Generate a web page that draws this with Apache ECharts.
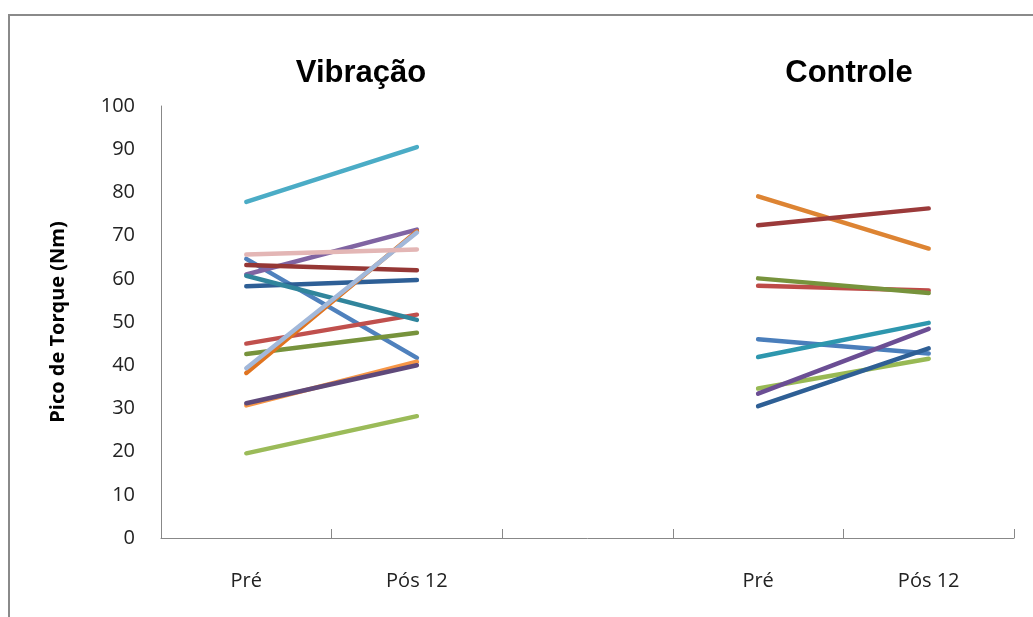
<!DOCTYPE html>
<html>
<head>
<meta charset="utf-8">
<script src="https://cdn.jsdelivr.net/npm/echarts@6/dist/echarts.min.js"></script>
<style>
html,body{margin:0;padding:0;background:#fff;}
#chart{width:1033px;height:617px;}
</style>
</head>
<body>
<div id="chart"></div>
<script>
const categories = ['Pré', 'Pós 12', '', 'Pré', 'Pós 12'];
const yTicks = [0, 10, 20, 30, 40, 50, 60, 70, 80, 90, 100];
const groupTitles = ['Vibração', 'Controle'];
const yAxisTitle = 'Pico de Torque (Nm)';

const vibPre = [64.6, 45.0, 19.6, 61.0, 77.8, 30.7, 58.3, 63.2, 42.6, 31.2, 60.7, 38.2, 39.3, 65.6];
const vibPos = [41.7, 51.7, 28.2, 71.4, 90.5, 40.8, 59.7, 62.0, 47.5, 40.0, 50.5, 71.0, 70.7, 66.8];
const ctlPre = [46.0, 58.4, 34.6, 33.4, 41.9, 79.1, 30.5, 72.4, 60.1];
const ctlPos = [42.7, 57.3, 41.5, 48.4, 49.8, 67.0, 43.9, 76.3, 56.7];

const vibColors = ['#4F81BD', '#C0504D', '#9BBB59', '#8064A2', '#4BACC6', '#F79646', '#2E5F96', '#953735', '#77933C', '#5F497A', '#31859C', '#E07420', '#A2B8DA', '#E3B6B5'];
const ctlColors = ['#4A7EBB', '#BE4B48', '#98B954', '#6B4E94', '#2E97AE', '#DD8433', '#2E5F95', '#9B3A3A', '#77933C'];

const series = [];
vibPre.forEach((v, i) => {
  series.push({
    type: 'line', symbol: 'none', connectNulls: false,
    data: [v, vibPos[i], null, null, null],
    lineStyle: { width: 4.5, color: vibColors[i], cap: 'round' },
    itemStyle: { color: vibColors[i] }
  });
});
ctlPre.forEach((v, i) => {
  series.push({
    type: 'line', symbol: 'none', connectNulls: false,
    data: [null, null, null, v, ctlPos[i]],
    lineStyle: { width: 4.5, color: ctlColors[i], cap: 'round' },
    itemStyle: { color: ctlColors[i] }
  });
});

const chart = echarts.init(document.getElementById('chart'), null, { renderer: 'canvas' });
chart.setOption({
  animation: false,
  backgroundColor: '#fff',
  grid: { left: 161, right: 19, top: 106, bottom: 79, containLabel: false },
  xAxis: {
    type: 'category',
    data: categories,
    boundaryGap: true,
    axisLine: { lineStyle: { color: '#888', width: 1 } },
    axisTick: { show: true, inside: true, length: 9, interval: 0, lineStyle: { color: '#888' } },
    axisLabel: { interval: 0, margin: 33, color: '#222', fontSize: 20, fontFamily: 'Open Sans' },
    splitLine: { show: false }
  },
  yAxis: {
    type: 'value',
    min: yTicks[0], max: yTicks[yTicks.length - 1], interval: 10,
    name: yAxisTitle,
    nameLocation: 'middle',
    nameGap: 93,
    nameTextStyle: { fontSize: 20, fontWeight: 'bold', color: '#000', fontFamily: 'Open Sans' },
    axisLine: { show: true, lineStyle: { color: '#888', width: 1 } },
    axisTick: { show: false },
    axisLabel: { margin: 26, color: '#222', fontSize: 20, fontFamily: 'Open Sans' },
    splitLine: { show: false }
  },
  graphic: [
    { type: 'rect', shape: { x: 9, y: 15, width: 1100, height: 700 }, style: { fill: 'none', stroke: '#8a8a8a', lineWidth: 2 }, silent: true },
    { type: 'text', x: 361, y: 73, style: { text: groupTitles[0], font: 'bold 31px "Liberation Sans", Arial', fill: '#000', textAlign: 'center', textVerticalAlign: 'middle' } },
    { type: 'text', x: 849, y: 73, style: { text: groupTitles[1], font: 'bold 31px "Liberation Sans", Arial', fill: '#000', textAlign: 'center', textVerticalAlign: 'middle' } }
  ],
  series: series
});
</script>
</body>
</html>
